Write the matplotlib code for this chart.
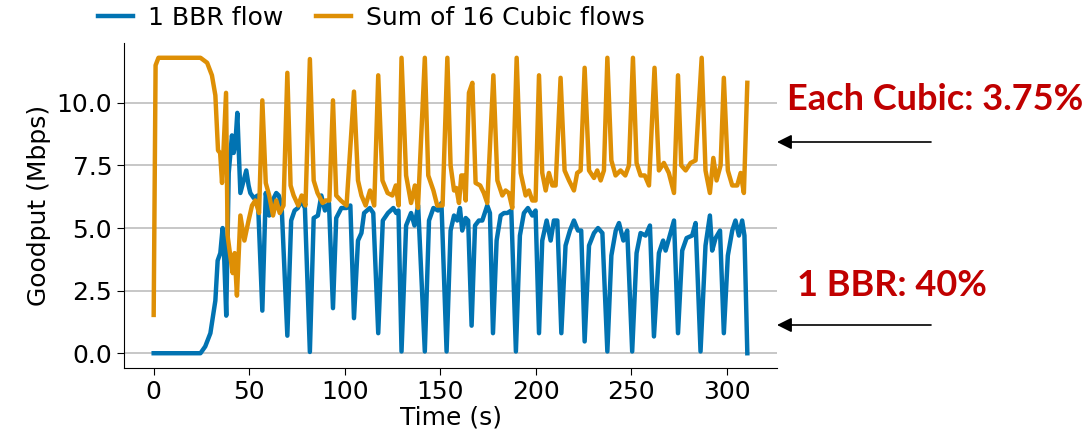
import numpy as np
import matplotlib
matplotlib.use("Agg")
import matplotlib.pyplot as plt

# goodput traces, vertices
bbr_t = [0, 24.5, 27, 29.7, 32.3, 33.5, 34.9, 36.1, 36.7, 38, 39.3, 41, 41.9, 42.8, 43.8,
         45.4, 47.1, 48.5, 49.7, 50.6, 52.4, 54.5, 56.9, 58.7, 60.5, 62.3, 64.2, 65.5, 67,
         70, 72, 73.8, 75.5, 77.3, 79.2, 81.8, 83.8, 86, 87.8, 89.7, 91.8, 93.9, 95.6, 98.3,
         101, 103, 104.9, 107, 108.8, 110.2, 113.2, 115, 117.6, 120, 122.7, 125.5, 127, 128.2,
         129.8, 132.2, 134.8, 136.6, 138.5, 142, 144.2, 146.5, 148.9, 150.7, 153.4, 155.5,
         157.3, 159, 160.4, 161.6, 163.4, 164.7, 166.5, 168.3, 170.3, 172.1, 174.7, 176.1,
         177.7, 179.6, 181.7, 183.5, 185.2, 187.3, 189.7, 191.8, 193.9, 196, 198.3, 200,
         201.8, 203.5, 205.8, 207.9, 209.6, 211.4, 213.5, 215.7, 218, 220.1, 222.2, 223.9,
         225.7, 228, 230.6, 232.7, 235, 237.6, 239.7, 242, 243.7, 246, 248, 250.6, 252.9,
         255, 257.6, 259.9, 262, 264.6, 266.8, 268.1, 270.7, 272.5, 274.6, 276.8, 279.1,
         282, 283.8, 286.4, 289, 291.3, 292.5, 294.3, 296.6, 298.6, 300.7, 303, 304.7,
         306.5, 308.2, 309.4, 310.9]
bbr_v = [0.0, 0.0, 0.27, 0.8, 2.1, 3.7, 4.0, 5.0, 4.3, 1.5, 7.2, 8.7, 8.0, 8.4, 9.6,
         6.4, 6.9, 7.3, 6.7, 6.4, 6.2, 6.3, 1.7, 6.4, 5.5, 6.1, 6.4, 6.3, 5.9,
         0.7, 5.3, 5.7, 5.8, 6.1, 5.8, 0.05, 5.4, 5.5, 6.3, 5.7, 6.0, 1.8, 5.4, 5.8,
         5.8, 5.9, 1.4, 4.5, 4.8, 5.6, 5.8, 5.6, 0.8, 5.3, 5.6, 5.8, 5.6, 5.7,
         0.07, 5.1, 5.6, 5.1, 5.9, 0.07, 5.3, 5.8, 5.7, 6.0, 0.07, 4.9,
         5.5, 5.3, 5.8, 4.9, 5.4, 5.3, 1.1, 5.1, 5.3, 5.3, 5.9, 5.6,
         0.8, 4.5, 5.5, 5.6, 5.6, 5.7, 0.07, 4.7, 5.6, 5.8, 5.5, 5.7,
         0.8, 4.5, 5.3, 4.5, 5.3, 5.3, 0.8, 4.3, 4.9, 5.3, 4.9, 4.9,
         0.47, 4.3, 4.8, 5.0, 4.8, 0.07, 3.9, 4.9, 5.2, 4.5, 4.9, 0.07, 4.0,
         4.8, 4.7, 5.1, 0.67, 4.0, 4.5, 4.1, 4.8, 5.3, 0.8, 4.1, 4.6,
         4.7, 5.2, 0.07, 4.3, 5.5, 4.1, 4.6, 4.9, 0.8, 3.9, 4.9, 5.3,
         4.7, 5.3, 4.7, 0.0]

cubic_t = [0, 1, 2.5, 24.5, 28, 30.5, 32.3, 33.7, 34.8, 35.8, 37.9, 38.7, 40.1, 41.4, 42.4,
           43.6, 45.4, 47.5, 49.7, 51.5, 53.2, 55.2, 56.9, 58.7, 60.5, 62.5, 64.2, 66, 68,
           70, 71.7, 73.3, 75.7, 77.5, 79.5, 81.8, 83.8, 85.8, 88.5, 90, 92, 93.9, 95.6, 98,
           101, 104.9, 107, 108.8, 111, 113.3, 115.5, 117.6, 119.8, 122.5, 125, 126.8, 128.3,
           129.8, 132.2, 134.8, 136.8, 138.4, 142, 143.8, 146.5, 148.5, 151.3, 153.8, 155.5,
           157.3, 158.5, 159.9, 161.1, 162.3, 163.4, 165.1, 166.9, 168.6, 171, 172.9, 174.7,
           177.9, 180, 182.6, 184.3, 186, 187.8, 190.1, 192.2, 194.8, 196.5, 198.3, 200,
           201.8, 203.5, 205.3, 207, 208.8, 210.5, 213.1, 215.2, 217.5, 220.1, 221.8, 223.6,
           225.7, 228, 230.6, 232.3, 234.1, 235.8, 237.6, 239.7, 241.9, 244.5, 247, 248.9,
           251, 252.9, 255, 257.2, 259.4, 262.3, 264.6, 267.2, 269.8, 272.5, 274.6, 276.3,
           278.6, 281.2, 283.8, 287, 289, 291.3, 293.1, 294.8, 296.9, 298.6, 300.7, 303,
           305.6, 307.4, 309.1, 310.9]
cubic_v = [1.53, 11.5, 11.8, 11.8, 11.6, 11.1, 10.3, 8.1, 8.0, 6.8, 10.4, 4.7, 3.9, 3.2, 4.0,
           2.3, 5.5, 4.5, 5.3, 5.9, 6.1, 5.6, 10.1, 6.8, 6.3, 5.5, 6.1, 5.6, 5.9,
           11.2, 6.7, 6.3, 5.9, 6.3, 5.9, 11.75, 6.9, 6.4, 6.0, 6.1, 6.1, 10.1, 6.3, 6.1,
           5.9, 10.45, 6.9, 6.3, 5.9, 6.5, 5.9, 11.1, 6.9, 6.4, 6.3, 6.7, 5.9,
           11.8, 7.1, 6.0, 6.7, 5.8, 11.8, 7.1, 6.5, 5.9, 5.9, 11.8, 7.5,
           6.5, 6.6, 6.0, 7.1, 7.1, 6.1, 10.4, 10.8, 6.8, 6.7, 6.4, 6.0,
           11.1, 6.9, 6.3, 6.5, 6.4, 5.8, 11.8, 7.2, 6.3, 6.5, 6.1, 6.1,
           11.1, 7.2, 6.5, 7.2, 6.7, 6.7, 11.0, 7.3, 6.9, 6.5, 7.2, 7.3,
           11.4, 7.3, 7.0, 7.3, 6.9, 7.3, 11.8, 7.7, 7.1, 7.3, 7.1, 7.5,
           11.8, 7.6, 7.1, 7.1, 6.7, 11.4, 7.3, 7.6, 7.2, 6.4, 11.1, 7.5,
           7.3, 7.6, 7.7, 11.8, 7.3, 6.4, 7.8, 6.9, 7.5, 11.0, 7.3, 6.7,
           6.7, 7.2, 6.4, 10.8]

x_ticks = [0, 50, 100, 150, 200, 250, 300]
y_ticks = [0.0, 2.5, 5.0, 7.5, 10.0]

BLUE = "#0173b2"
ORANGE = "#de8f05"
RED = "#c00000"


def main():
    plt.rcParams["font.family"] = ["DejaVu Sans"]
    W, H = 1089, 436
    fig = plt.figure(figsize=(W / 100, H / 100), dpi=100)
    ax = fig.add_axes([124 / W, 1 - 368 / H, (777 - 124) / W, (368 - 43) / H])

    ax.plot(bbr_t, bbr_v, color=BLUE, lw=3.2, label="1 BBR flow")
    ax.plot(cubic_t, cubic_v, color=ORANGE, lw=3.2, label="Sum of 16 Cubic flows")

    ax.set_xticks(x_ticks)
    ax.set_yticks(y_ticks)
    ax.set_yticklabels(["%.1f" % y for y in y_ticks])
    ax.tick_params(labelsize=18, length=5)
    ax.set_xlabel("Time (s)", fontsize=18, labelpad=1)
    ax.set_ylabel("Goodput (Mbps)", fontsize=18)
    ax.yaxis.grid(True, color="#bdbdbd", lw=1.2)
    ax.set_axisbelow(True)
    for s in ("top", "right"):
        ax.spines[s].set_visible(False)

    fig.legend(loc="center", bbox_to_anchor=(371 / W, 1 - 18 / H), ncol=2,
               frameon=False, fontsize=18, handlelength=1.4, handletextpad=0.6,
               columnspacing=1.3)

    # annotations outside the axes
    fig.text(787 / W, 1 - 100 / H, "Each Cubic: 3.75%", color=RED, fontsize=26,
             fontweight="bold", family=["Lato", "DejaVu Sans"], va="center", ha="left")
    fig.text(797 / W, 1 - 286 / H, "1 BBR: 40%", color=RED, fontsize=26,
             fontweight="bold", family=["Lato", "DejaVu Sans"], va="center", ha="left")
    for y in (142, 325):
        fig.add_artist(matplotlib.patches.FancyArrowPatch(
            (931 / W, 1 - y / H), (777 / W, 1 - y / H), transform=fig.transFigure,
            arrowstyle="-|>", mutation_scale=22, color="black", lw=1.2,
            shrinkA=0, shrinkB=0))

    fig.savefig("out.png", dpi=100)


if __name__ == "__main__":
    main()
